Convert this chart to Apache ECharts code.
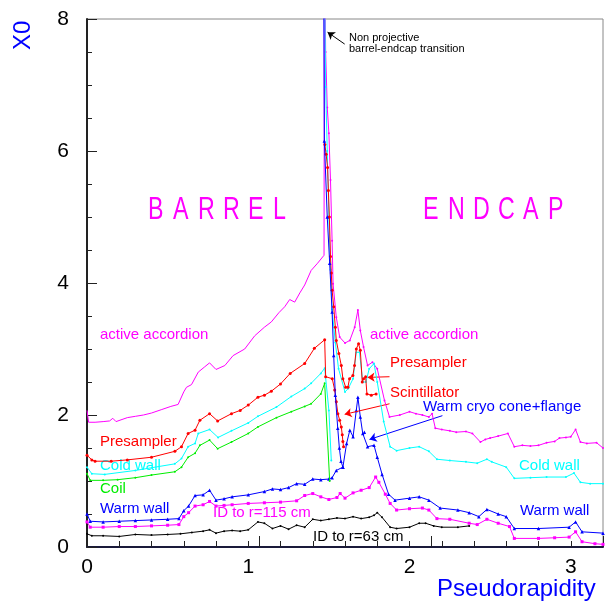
<!DOCTYPE html>
<html><head><meta charset="utf-8">
<script src="https://cdn.jsdelivr.net/npm/echarts@6/dist/echarts.min.js"></script>
<style>html,body{margin:0;padding:0;background:#fff}#c{width:605px;height:604px}</style>
</head><body><div id="c"></div>
<script>
// ---- data (eta, X0) ----
const etaId63 = [0,0.03,0.1,0.2,0.3,0.4,0.5,0.58,0.65,0.72,0.76,0.8,0.85,0.9,0.95,1.0,1.06,1.1,1.15,1.2,1.25,1.3,1.35,1.4,1.45,1.5,1.55,1.6,1.65,1.7,1.75,1.78,1.8,1.83,1.88,1.92,2.0,2.06,2.1,2.15,2.2,2.3,2.37];
const x0Id63  = [0.2,0.17,0.17,0.16,0.19,0.18,0.19,0.2,0.22,0.24,0.26,0.21,0.24,0.25,0.24,0.26,0.38,0.36,0.28,0.32,0.27,0.33,0.30,0.42,0.40,0.42,0.44,0.43,0.46,0.43,0.45,0.48,0.52,0.45,0.30,0.28,0.30,0.36,0.36,0.32,0.30,0.30,0.32];

const etaId115 = [0,0.02,0.1,0.2,0.3,0.4,0.5,0.57,0.6,0.63,0.67,0.72,0.76,0.8,0.85,0.9,1.0,1.1,1.2,1.3,1.35,1.4,1.45,1.5,1.55,1.57,1.6,1.65,1.7,1.75,1.79,1.81,1.85,1.88,1.92,2.0,2.08,2.12,2.17,2.25,2.37,2.42,2.48,2.55,2.62,2.65,2.8,2.9,2.99,3.03,3.07,3.15,3.2];
const x0Id115  = [0.38,0.30,0.30,0.31,0.31,0.32,0.33,0.34,0.46,0.52,0.62,0.64,0.69,0.62,0.63,0.64,0.66,0.67,0.68,0.70,0.78,0.81,0.76,0.72,0.75,0.81,0.74,0.82,0.86,0.90,1.06,0.98,0.80,0.66,0.56,0.58,0.59,0.56,0.43,0.42,0.36,0.34,0.42,0.36,0.31,0.13,0.13,0.14,0.15,0.23,0.08,0.05,0.04];

const etaWarm = [0,0.02,0.1,0.2,0.3,0.4,0.5,0.57,0.6,0.63,0.67,0.72,0.76,0.8,0.85,0.9,1.0,1.1,1.15,1.2,1.25,1.3,1.35,1.4,1.45,1.5,1.52,1.546,1.587,1.61,1.63,1.65,1.67,1.68,1.695,1.71,1.72,1.74,1.78,1.80,1.83,1.87,1.91,2.0,2.06,2.12,2.19,2.3,2.37,2.43,2.48,2.55,2.6,2.65,2.8,2.99,3.03,3.07,3.2];
const x0Warm  = [0.5,0.39,0.38,0.39,0.40,0.41,0.42,0.43,0.55,0.62,0.78,0.79,0.86,0.71,0.73,0.76,0.79,0.84,0.88,0.87,0.90,0.96,0.95,1.03,1.02,1.03,1.05,1.16,1.21,1.57,1.77,1.67,2.07,2.27,1.97,1.72,1.74,1.52,1.54,1.36,1.10,0.80,0.71,0.74,0.76,0.71,0.59,0.56,0.52,0.46,0.57,0.50,0.46,0.28,0.28,0.30,0.38,0.23,0.21];

const etaWarmCrack = [1.468,1.472,1.49,1.505,1.52,1.53,1.54,1.555,1.565,1.575,1.587];
const x0WarmCrack  = [8.6,6.15,5.0,4.3,3.56,2.9,2.3,1.8,1.5,1.3,1.21];

const etaCoil = [0,0.02,0.1,0.19,0.3,0.4,0.545,0.586,0.627,0.67,0.70,0.76,0.81,0.896,1.0,1.06,1.175,1.267,1.35,1.39,1.45,1.474,1.505];
const x0Coil  = [1.11,1.01,1.01,1.02,1.05,1.09,1.14,1.21,1.36,1.42,1.54,1.62,1.49,1.59,1.72,1.82,1.96,2.05,2.13,2.17,2.32,2.48,1.0];

const etaColdB = [0,0.03,0.11,0.3,0.545,0.586,0.627,0.67,0.69,0.76,0.813,0.896,1.0,1.06,1.175,1.267,1.35,1.39,1.45,1.474,1.50,1.515];
const x0ColdB  = [1.21,1.11,1.10,1.16,1.26,1.34,1.52,1.57,1.72,1.78,1.66,1.76,1.88,1.98,2.12,2.28,2.40,2.48,2.63,2.71,2.07,1.31];

const etaColdE = [1.473,1.48,1.49,1.50,1.51,1.52,1.54,1.56,1.6,1.62,1.65,1.67,1.69,1.71,1.73,1.75,1.78,1.80,1.84,1.88,1.92,2.0,2.06,2.12,2.17,2.25,2.35,2.42,2.48,2.51,2.6,2.65,2.75,2.85,2.97,3.02,3.06,3.12,3.2];
const x0ColdE  = [8.6,6.97,6.0,5.0,4.2,3.6,3.1,2.7,2.35,2.4,2.55,2.95,2.95,2.5,2.5,2.7,2.78,2.5,1.9,1.52,1.46,1.50,1.52,1.45,1.33,1.31,1.29,1.27,1.33,1.29,1.21,1.04,1.05,1.06,1.06,1.12,0.98,0.96,0.96];

const etaPresB = [0,0.03,0.05,0.15,0.25,0.4,0.545,0.586,0.627,0.67,0.70,0.76,0.81,0.896,0.95,1.0,1.06,1.1,1.143,1.2,1.26,1.35,1.41,1.474,1.48,1.521,1.536,1.546,1.556,1.567,1.577,1.583,1.587,1.591];
const x0PresB  = [1.39,1.32,1.30,1.30,1.32,1.36,1.45,1.52,1.72,1.77,1.92,2.02,1.91,2.02,2.07,2.15,2.27,2.30,2.36,2.47,2.63,2.78,3.01,3.14,2.58,2.55,2.38,2.2,2.02,1.92,1.82,1.70,1.6,1.52];

const etaPresE = [1.475,1.483,1.492,1.497,1.503,1.51,1.515,1.52,1.53,1.54,1.546,1.562,1.577,1.587,1.604,1.618,1.628,1.649,1.659,1.67,1.684,1.695,1.707,1.715,1.728,1.736,1.763,1.793];
const x0PresE  = [6.1,5.95,5.75,5.4,5.0,4.4,4.15,3.89,3.64,3.33,3.13,2.93,2.75,2.55,2.42,2.42,2.55,2.60,2.75,3.0,3.08,2.98,2.5,2.55,2.58,2.32,2.30,2.32];

const etaAccB = [0,0.01,0.05,0.1,0.14,0.16,0.18,0.25,0.3,0.35,0.4,0.46,0.52,0.565,0.6,0.617,0.648,0.69,0.73,0.76,0.80,0.855,0.906,0.978,1.04,1.1,1.143,1.19,1.226,1.257,1.288,1.32,1.35,1.39,1.43,1.47,1.472];
const x0AccB  = [2.07,1.89,1.89,1.90,1.91,1.95,1.90,1.96,1.98,2.0,2.03,2.08,2.13,2.16,2.35,2.42,2.46,2.65,2.73,2.79,2.69,2.75,2.9,3.0,3.2,3.33,3.41,3.55,3.64,3.75,3.71,3.85,3.97,4.19,4.3,4.42,8.6];

const etaAccE = [1.476,1.48,1.49,1.50,1.51,1.52,1.526,1.546,1.567,1.6,1.63,1.66,1.68,1.695,1.715,1.74,1.77,1.8,1.845,1.876,1.94,2.0,2.04,2.08,2.12,2.14,2.16,2.2,2.25,2.29,2.35,2.39,2.44,2.47,2.5,2.55,2.61,2.65,2.7,2.75,2.8,2.85,2.9,2.93,2.97,3.0,3.03,3.06,3.1,3.16,3.2];
const x0AccE  = [8.6,7.5,6.66,6.27,5.56,4.64,3.99,3.48,3.18,3.09,3.13,3.33,3.59,3.28,3.03,2.75,2.80,2.70,2.22,1.97,2.0,2.05,2.02,2.0,1.97,2.02,1.8,1.78,1.76,1.74,1.75,1.72,1.59,1.63,1.65,1.68,1.72,1.52,1.54,1.53,1.54,1.58,1.6,1.65,1.66,1.67,1.78,1.59,1.57,1.58,1.5];

const yTickLabels = [0,2,4,6,8];
const xTickLabels = [0,1,2,3];

// ---- chart ----
const zip = (a, b) => a.map((v, i) => [v, b[i]]);
const near = (v, list) => list.some(t => Math.abs(v - t) < 1e-6);
const chart = echarts.init(document.getElementById('c'), null, {renderer: 'canvas'});
const FONT = 'Liberation Sans';
function line(name, eta, x0, color, symbol, size, z) {
  return { name, type: 'line', data: zip(eta, x0), xAxisIndex: 0, yAxisIndex: 0,
    symbol: symbol, symbolSize: size, showSymbol: symbol !== 'none',
    lineStyle: {color, width: 1}, itemStyle: {color}, z: z || 2, animation: false, clip: true };
}
const txt = (text, x, y, color, size, extra) => Object.assign({
  type: 'text', left: x, top: y, silent: true,
  style: {text, fill: color, font: size + 'px "' + FONT + '"'}}, extra || {});

const graphics = [
  txt('active accordion', 100, 327, '#ff00ff', 15),
  txt('active accordion', 370, 327, '#ff00ff', 15),
  txt('Presampler', 390, 355, '#ff0000', 15),
  txt('Scintillator', 390, 385, '#ff0000', 15),
  txt('Warm cryo cone+flange', 423, 399, '#0000ff', 15),
  txt('Presampler', 100, 434, '#ff0000', 15),
  txt('Cold wall', 100, 458, '#00ffff', 15),
  txt('Coil', 100, 481, '#00ee00', 15),
  txt('Warm wall', 100, 501, '#0000ff', 15),
  txt('ID to r=115 cm', 213, 505, '#ff00ff', 15),
  txt('ID to r=63 cm', 313, 529, '#000000', 15),
  txt('Cold wall', 519, 458, '#00ffff', 15),
  txt('Warm wall', 520, 503, '#0000ff', 15),
  txt('Non projective', 349, 32, '#000', 11),
  txt('barrel-endcap transition', 349, 43, '#000', 11),
  txt('Pseudorapidity', 437, 577, '#0000ff', 24),
  {type: 'text', x: 11, y: 50, rotation: Math.PI / 2, silent: true,
   style: {text: 'X0', fill: '#0000ff', font: '24px "' + FONT + '"'}}
];
const BAR = 'BARREL', END = 'ENDCAP';
for (let i = 0; i < 6; i++) {
  graphics.push({type: 'text', x: 148 + i * 25, y: 195, scaleX: 0.75, silent: true,
    style: {text: BAR[i], fill: '#ff00ff', font: '31px "' + FONT + '"'}});
  graphics.push({type: 'text', x: 423 + i * 25, y: 195, scaleX: 0.75, silent: true,
    style: {text: END[i], fill: '#ff00ff', font: '31px "' + FONT + '"'}});
}

const arrows = [
  {c: '#000', from: [1.598, 7.62], to: [1.492, 7.8]},
  {c: '#ff0000', from: [1.876, 2.58], to: [1.74, 2.57]},
  {c: '#ff0000', from: [1.876, 2.17], to: [1.598, 2.01]},
  {c: '#0000ff', from: [2.204, 1.99], to: [1.752, 1.63]}
];

const option = {
  backgroundColor: '#fff',
  animation: false,
  grid: {left: 87, right: 2, top: 19, bottom: 57, show: true, borderColor: '#888', borderWidth: 1},
  xAxis: [
    {type: 'value', min: 0, max: 3.2, interval: 0.2,
     axisLine: {show: true, onZero: false, lineStyle: {color: '#1a1a3a', width: 2}},
     axisTick: {show: true, inside: true, length: 6, lineStyle: {color: '#222', width: 1}},
     axisLabel: {showMaxLabel: false, color: '#000', fontSize: 21, fontFamily: FONT, margin: 10,
       formatter: v => near(v, xTickLabels) ? String(Math.round(v)) : ''},
     splitLine: {show: false}},
    {type: 'value', min: 0, max: 3, interval: 1, position: 'bottom', offset: 0,
     axisLine: {show: false, onZero: false},
     axisTick: {show: true, inside: true, length: 11, lineStyle: {color: '#222', width: 1}},
     axisLabel: {show: false}, splitLine: {show: false}}
  ],
  yAxis: [
    {type: 'value', min: 0, max: 8, interval: 0.5,
     axisLine: {show: true, onZero: false, lineStyle: {color: '#222', width: 2}},
     axisTick: {show: true, inside: true, length: 5, lineStyle: {color: '#222'}},
     axisLabel: {color: '#000', fontSize: 21, fontFamily: FONT, margin: 18,
       formatter: v => near(v, yTickLabels) ? String(Math.round(v)) : ''},
     splitLine: {show: false}},
    {type: 'value', min: 0, max: 8, interval: 2, position: 'left', offset: 0,
     axisLine: {show: false, onZero: false},
     axisTick: {show: true, inside: true, length: 10, lineStyle: {color: '#222'}},
     axisLabel: {show: false}, splitLine: {show: false}}
  ],
  graphic: graphics,
  series: [
    line('ID to r=63 cm', etaId63, x0Id63, '#000000', 'circle', 2, 2),
    line('ID to r=115 cm', etaId115, x0Id115, '#ff00ff', 'rect', 3, 3),
    line('Warm wall', etaWarm, x0Warm, '#0000ff', 'triangle', 3.5, 4),
    line('Coil', etaCoil, x0Coil, '#00ee00', 'circle', 2, 5),
    line('Cold wall barrel', etaColdB, x0ColdB, '#00ffff', 'circle', 2, 6),
    line('Accordion barrel', etaAccB, x0AccB, '#ff00ff', 'none', 0, 6),
    line('Accordion endcap', etaAccE, x0AccE, '#ff00ff', 'circle', 2, 7),
    line('Cold wall endcap', etaColdE, x0ColdE, '#00ffff', 'circle', 2, 8),
    line('Presampler barrel', etaPresB, x0PresB, '#ff0000', 'circle', 3, 9),
    line('Presampler endcap', etaPresE, x0PresE, '#ff0000', 'circle', 3, 9),
    line('Warm crack', etaWarmCrack, x0WarmCrack, '#0000ff', 'triangle', 3.5, 10),
    {type: 'line', data: [], silent: true,
     markLine: {silent: true, animation: false, symbol: ['none', 'arrow'], symbolSize: 7,
       label: {show: false},
       data: arrows.map(a => [{coord: a.from, lineStyle: {color: a.c, width: 1, type: 'solid'}, itemStyle: {color: a.c}},
                             {coord: a.to}])}}
  ]
};
chart.setOption(option);
</script></body></html>
